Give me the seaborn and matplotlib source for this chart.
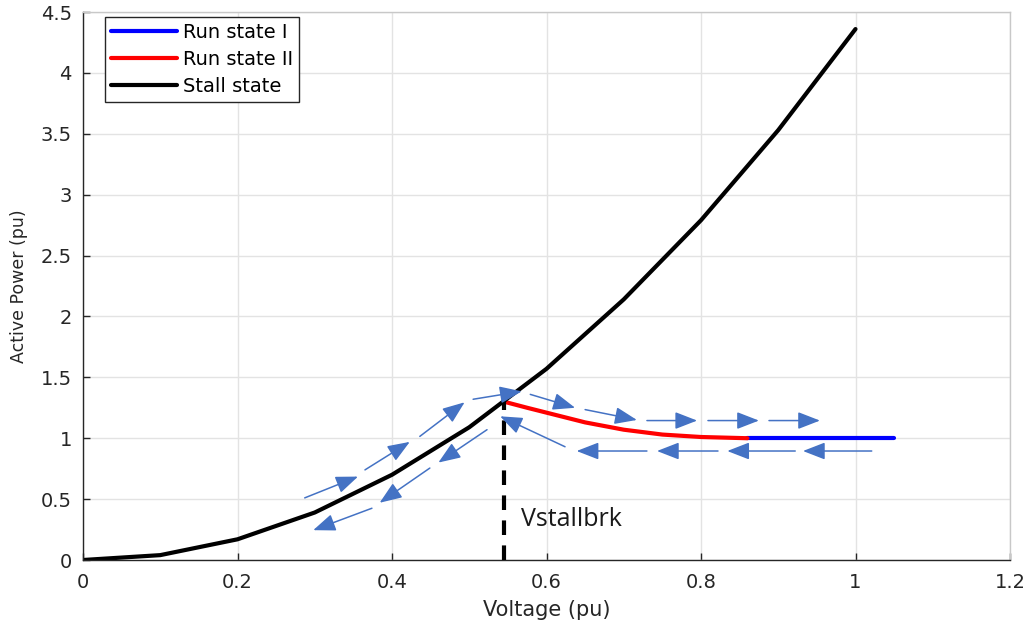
import matplotlib
matplotlib.use("Agg")
import matplotlib.pyplot as plt
import seaborn as sns
import pandas as pd

# ---- data ----
stall_v = [0.0, 0.1, 0.2, 0.3, 0.4, 0.5, 0.6, 0.7, 0.8, 0.9, 1.0]
stall_p = [0.0, 0.04, 0.17, 0.39, 0.70, 1.09, 1.57, 2.14, 2.79, 3.53, 4.36]

run2_v = [0.545, 0.575, 0.6, 0.625, 0.65, 0.7, 0.75, 0.8, 0.86]
run2_p = [1.30, 1.25, 1.21, 1.17, 1.13, 1.07, 1.03, 1.01, 1.00]

run1_v = [0.86, 1.05]
run1_p = [1.00, 1.00]

v_stallbrk = 0.545
p_stallbrk = 1.30

# forward arrows (start V, start P, end V, end P)
fwd_v0 = [0.287, 0.365, 0.436, 0.505, 0.579, 0.650, 0.730, 0.809, 0.888]
fwd_p0 = [0.510, 0.740, 1.015, 1.320, 1.360, 1.235, 1.145, 1.145, 1.145]
fwd_v1 = [0.356, 0.423, 0.494, 0.568, 0.637, 0.717, 0.795, 0.875, 0.954]
fwd_p1 = [0.685, 0.970, 1.295, 1.385, 1.250, 1.150, 1.145, 1.145, 1.145]
# backward arrows
bwd_v0 = [1.021, 0.922, 0.822, 0.730, 0.624, 0.523, 0.449, 0.374]
bwd_p0 = [0.895, 0.895, 0.895, 0.895, 0.930, 1.070, 0.755, 0.425]
bwd_v1 = [0.932, 0.834, 0.743, 0.639, 0.540, 0.460, 0.384, 0.298]
bwd_p1 = [0.895, 0.895, 0.895, 0.895, 1.180, 0.800, 0.470, 0.245]

x_ticks = [0, 0.2, 0.4, 0.6, 0.8, 1.0, 1.2]
x_labels = ["0", "0.2", "0.4", "0.6", "0.8", "1", "1.2"]
y_ticks = [0, 0.5, 1, 1.5, 2, 2.5, 3, 3.5, 4, 4.5]
y_labels = ["0", "0.5", "1", "1.5", "2", "2.5", "3", "3.5", "4", "4.5"]

sns.set_theme(style="whitegrid")
plt.rcParams['font.family'] = ['DejaVu Sans']

fig = plt.figure(figsize=(10.29, 6.34), dpi=100)
ax = fig.add_axes([83/1029, 1-560/634, (1010-83)/1029, (560-12)/634])
ax.set_facecolor("white")

df1 = pd.DataFrame({"V": run1_v, "P": run1_p})
df2 = pd.DataFrame({"V": run2_v, "P": run2_p})
dfs = pd.DataFrame({"V": stall_v, "P": stall_p})

sns.lineplot(data=df1, x="V", y="P", color="#0000ff", lw=3, label="Run state I", ax=ax, sort=False, estimator=None)
sns.lineplot(data=df2, x="V", y="P", color="#ff0000", lw=3, label="Run state II", ax=ax, sort=False, estimator=None)
sns.lineplot(data=dfs, x="V", y="P", color="black", lw=3, label="Stall state", ax=ax, sort=False, estimator=None)

ax.plot([v_stallbrk, v_stallbrk], [0, p_stallbrk], color="black", lw=3,
        linestyle=(0, (3.5, 2.5)), zorder=3)
ax.text(v_stallbrk + 0.022, 0.33, "Vstallbrk", fontsize=18, family=["Open Sans", "DejaVu Sans"],
        color="#1a1a1a", va="center", ha="left")

arrow_color = "#4472C4"
for a, b, c, d in list(zip(fwd_v0, fwd_p0, fwd_v1, fwd_p1)) + list(zip(bwd_v0, bwd_p0, bwd_v1, bwd_p1)):
    ax.annotate("", xy=(c, d), xytext=(a, b),
                arrowprops=dict(arrowstyle="-|>,head_length=0.85,head_width=0.33",
                                color=arrow_color, lw=1.1, shrinkA=0, shrinkB=0,
                                mutation_scale=16), zorder=4)

ax.set_xlim(0, 1.2)
ax.set_ylim(0, 4.5)
ax.set_xticks(x_ticks)
ax.set_xticklabels(x_labels)
ax.set_yticks(y_ticks)
ax.set_yticklabels(y_labels)
ax.set_xlabel("Voltage (pu)", fontsize=15, color="#262626", labelpad=6)
ax.set_ylabel("Active Power (pu)", fontsize=12.5, color="#262626", labelpad=9)
ax.tick_params(axis="both", labelsize=14, colors="#262626", direction="in", length=5,
               width=1, top=False, right=False, bottom=True, left=True)
ax.tick_params(axis="x", pad=9)
ax.tick_params(axis="y", pad=8)
ax.grid(True, color="#e3e3e3", lw=1)
for s in ["left", "bottom"]:
    ax.spines[s].set_color("#262626")
    ax.spines[s].set_linewidth(1)
for s in ["top", "right"]:
    ax.spines[s].set_color("#c8c8c8")
    ax.spines[s].set_linewidth(1)

leg = ax.legend(loc="upper left", bbox_to_anchor=(22/927, 1-5/548), fontsize=14,
                frameon=True, fancybox=False, edgecolor="#262626", framealpha=1,
                handlelength=3.4, handletextpad=0.3, borderpad=0.3, labelspacing=0.42,
                borderaxespad=0)
leg.get_frame().set_linewidth(1)
for t in leg.get_texts():
    t.set_color("black")

fig.savefig("out.png", dpi=100)
